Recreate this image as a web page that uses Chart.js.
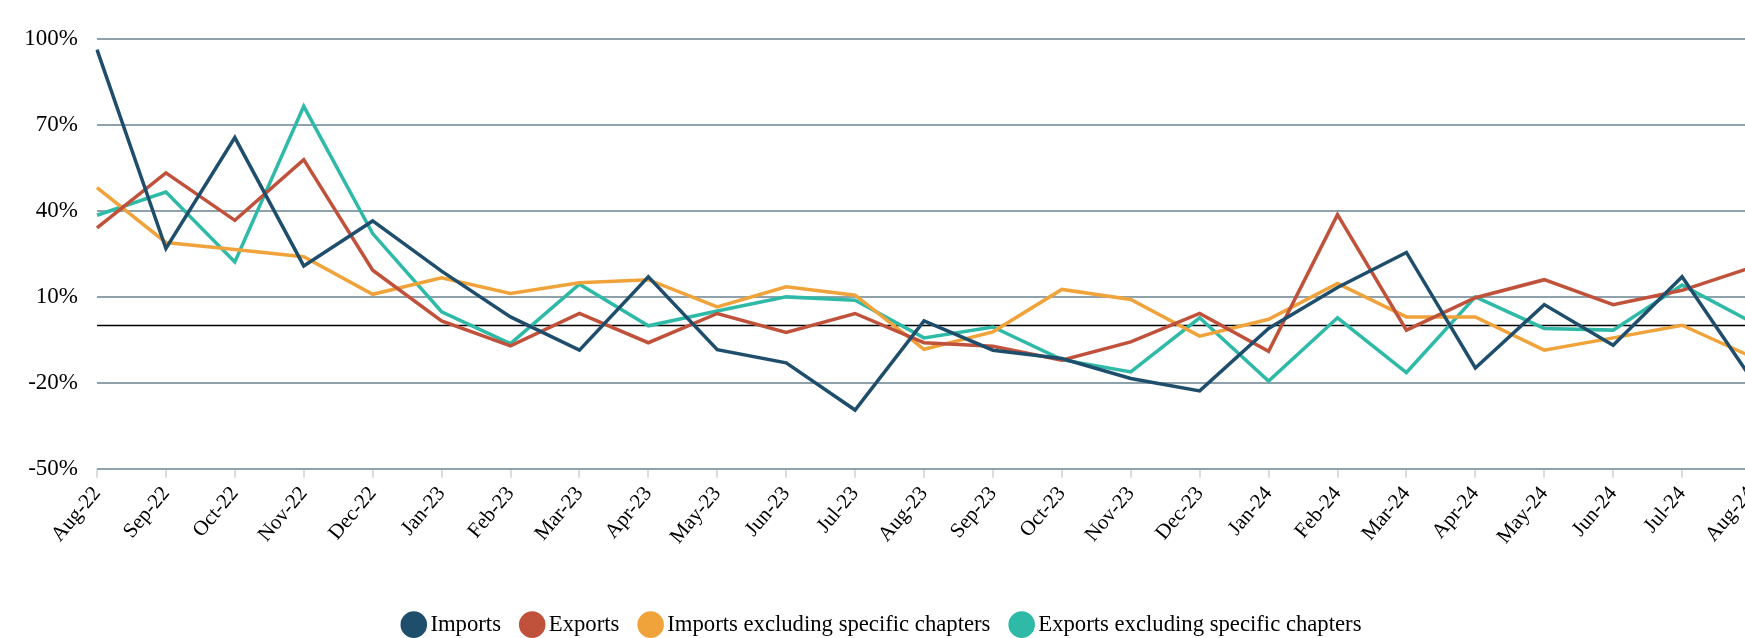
<!DOCTYPE html>
<html>
<head>
<meta charset="utf-8">
<script src="https://cdn.jsdelivr.net/npm/chart.js@4"></script>
<style>
    html, body { margin: 0; padding: 0; background: #fff; overflow: hidden; }
    .chart-wrap { width: 1762px; height: 646px; }
</style>
</head>
<body>
<div class="chart-wrap"><canvas id="trade-chart"></canvas></div>
<script>
const months = ['Aug-22', 'Sep-22', 'Oct-22', 'Nov-22', 'Dec-22', 'Jan-23', 'Feb-23', 'Mar-23', 'Apr-23',
    'May-23', 'Jun-23', 'Jul-23', 'Aug-23', 'Sep-23', 'Oct-23', 'Nov-23', 'Dec-23', 'Jan-24', 'Feb-24',
    'Mar-24', 'Apr-24', 'May-24', 'Jun-24', 'Jul-24', 'Aug-24'];

const imports = [96.3, 26.9, 65.6, 20.8, 36.5, 19, 3.0, -8.6, 17.0, -8.4, -13.0, -29.5, 1.6, -8.6, -11.5,
    -18.5, -22.8, -1, 13.3, 25.5, -14.8, 7.3, -6.9, 17.0, -18.3];
const exportsData = [34.1, 53.3, 36.7, 57.9, 19.3, 1.6, -7.1, 4.2, -6.0, 4.2, -2.4, 4.2, -6.0, -7.2, -12.1,
    -5.7, 4.2, -9.0, 38.7, -1.6, 9.7, 16.0, 7.3, 12.3, 20.2];
const importsExcl = [48.1, 29.0, 26.5, 24.0, 10.9, 16.7, 11.2, 14.9, 16.0, 6.5, 13.5, 10.6, -8.3, -2.2, 12.6,
    9.1, -3.7, 2.2, 14.7, 3.0, 3.0, -8.6, -4.3, 0.1, -10.8];
const exportsExcl = [38.5, 46.6, 22.2, 76.5, 32.1, 4.8, -6.3, 14.4, -0.1, 5.1, 10.0, 8.8, -4.3, -0.5, -11.9,
    -16.2, 2.7, -19.4, 2.7, -16.4, 10.0, -1.0, -1.6, 14.1, 1.3];

const yTicks = [-50, -20, 10, 40, 70, 100];

const serif = "'Liberation Serif', 'Times New Roman', serif";

// black zero line drawn from the y scale
const zeroLine = {
    id: 'zeroLine',
    beforeDatasetsDraw(chart) {
        const y = chart.scales.y.getPixelForValue(0);
        const ctx = chart.ctx;
        ctx.save();
        ctx.strokeStyle = '#000';
        ctx.lineWidth = 1.5;
        ctx.beginPath();
        ctx.moveTo(chart.chartArea.left, y);
        ctx.lineTo(chart.chartArea.right, y);
        ctx.stroke();
        ctx.restore();
    }
};

function line(label, data, color) {
    return {
        label: label,
        data: data,
        borderColor: color,
        backgroundColor: color,
        borderWidth: 3.5,
        pointRadius: 0,
        tension: 0,
        fill: false
    };
}

new Chart(document.getElementById('trade-chart'), {
    type: 'line',
    data: {
        labels: months,
        datasets: [
            line('Imports', imports, '#1f4e6c'),
            line('Exports', exportsData, '#c0513a'),
            line('Imports excluding specific chapters', importsExcl, '#f0a33a'),
            line('Exports excluding specific chapters', exportsExcl, '#2fbaa8')
        ]
    },
    options: {
        responsive: true,
        maintainAspectRatio: false,
        animation: false,
        layout: { padding: { top: 39, left: 8, right: 0, bottom: 0 } },
        plugins: {
            tooltip: { enabled: false },
            legend: {
                position: 'bottom',
                labels: {
                    usePointStyle: true,
                    pointStyle: 'circle',
                    boxWidth: 10.5,
                    boxHeight: 16.3,
                    padding: 26,
                    color: '#000',
                    font: { family: serif, size: 22.7 }
                }
            }
        },
        scales: {
            x: {
                offset: false,
                border: { display: false },
                grid: { drawOnChartArea: false, drawTicks: true, tickLength: 9, color: '#dcdcdc', lineWidth: 2 },
                ticks: {
                    autoSkip: false,
                    minRotation: 50,
                    maxRotation: 50,
                    padding: 4,
                    color: '#000',
                    font: { family: serif, size: 21 }
                },
                afterFit: s => { s.height = 118.5; s.paddingRight = 11; s.paddingLeft = 0; }
            },
            y: {
                min: -50,
                max: 100,
                border: { display: false },
                grid: { color: '#8fa2ac', lineWidth: 2, drawTicks: false },
                afterBuildTicks: s => { s.ticks = yTicks.map(v => ({ value: v })); },
                ticks: {
                    padding: 19,
                    color: '#000',
                    font: { family: serif, size: 23 },
                    callback: v => v + '%'
                },
                afterFit: s => { s.width = 89; }
            }
        }
    },
    plugins: [zeroLine]
});
</script>
</body>
</html>
